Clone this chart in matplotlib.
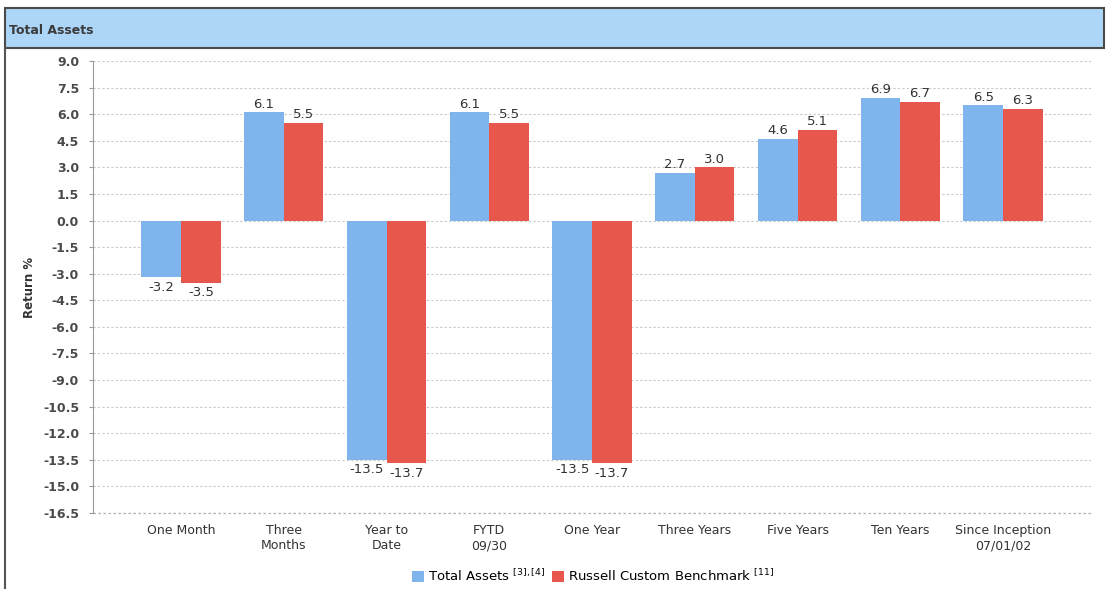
import numpy as np
import matplotlib.pyplot as plt
from matplotlib.patches import Rectangle
from matplotlib.lines import Line2D

# --- data ---
periods = ['One Month', 'Three\nMonths', 'Year to\nDate', 'FYTD\n09/30', 'One Year',
           'Three Years', 'Five Years', 'Ten Years', 'Since Inception\n07/01/02']
total_assets = [-3.2, 6.1, -13.5, 6.1, -13.5, 2.7, 4.6, 6.9, 6.5]
russell_bench = [-3.5, 5.5, -13.7, 5.5, -13.7, 3.0, 5.1, 6.7, 6.3]
y_ticks = np.arange(-16.5, 9.01, 1.5)

BLUE = '#7fb5ec'
RED = '#e8574c'
TXT = '#333333'

fig = plt.figure(figsize=(11.06, 5.89), dpi=100)

# header bar
fig.patches.append(Rectangle((5 / 1106, 1 - 48 / 589), 1099 / 1106, 40 / 589,
                             transform=fig.transFigure, facecolor='#acd5f8',
                             edgecolor='#4a4a4a', linewidth=1.5, zorder=0))
fig.text(9 / 1106, 1 - 30 / 589, 'Total Assets', fontsize=9, fontweight='bold',
         color='#3a3a3a', va='center', ha='left')
fig.lines.append(Line2D([5 / 1106, 5 / 1106], [0, 1 - 48 / 589], transform=fig.transFigure,
                        color='#555555', linewidth=1.5))

ax = fig.add_axes([93 / 1106, 1 - 513 / 589, 1000 / 1106, 452 / 589])

x = np.arange(len(periods))
w = 0.385
b1 = ax.bar(x - w / 2, total_assets, w, color=BLUE, label=r'Total Assets $^{\mathregular{[3],[4]}}$', zorder=3)
b2 = ax.bar(x + w / 2, russell_bench, w, color=RED, label=r'Russell Custom Benchmark $^{\mathregular{[11]}}$', zorder=3)

for bars in (b1, b2):
    for rect in bars:
        v = rect.get_height()
        cx = rect.get_x() + rect.get_width() / 2
        if v >= 0:
            ax.text(cx, v + 0.1, f'{v:.1f}', ha='center', va='bottom', fontsize=9.5, color=TXT)
        else:
            ax.text(cx, v - 0.2, f'{v:.1f}', ha='center', va='top', fontsize=9.5, color=TXT)

ax.set_ylim(-16.5, 9.0)
ax.set_xlim(-0.857, 8.876)
ax.set_yticks(y_ticks)
ax.set_yticklabels([f'{t:.1f}' for t in y_ticks], fontsize=9, color='#4a4a4a', fontweight='bold')
ax.set_xticks(x)
ax.set_xticklabels(periods, fontsize=9, color=TXT)
ax.tick_params(axis='x', length=0, pad=8)
ax.tick_params(axis='y', length=3, color='#999999', pad=7)
ax.set_ylabel('Return %', fontsize=8.5, fontweight='bold', color=TXT, labelpad=5)

ax.yaxis.grid(True, linestyle=(0, (2, 2)), color='#c8c8c8', linewidth=0.8, zorder=0)
ax.axhline(-16.5, linestyle=(0, (2, 2)), color='#b0b0b0', linewidth=0.9, clip_on=False, zorder=1)
for s in ('top', 'right', 'bottom'):
    ax.spines[s].set_visible(False)
ax.spines['left'].set_color('#999999')

ax.legend(loc='upper center', bbox_to_anchor=(0.5, -0.095), ncol=2, frameon=False,
          fontsize=9.5, handlelength=0.9, handleheight=0.9, columnspacing=0.5, handletextpad=0.3)

fig.savefig('out.png', dpi=100)
